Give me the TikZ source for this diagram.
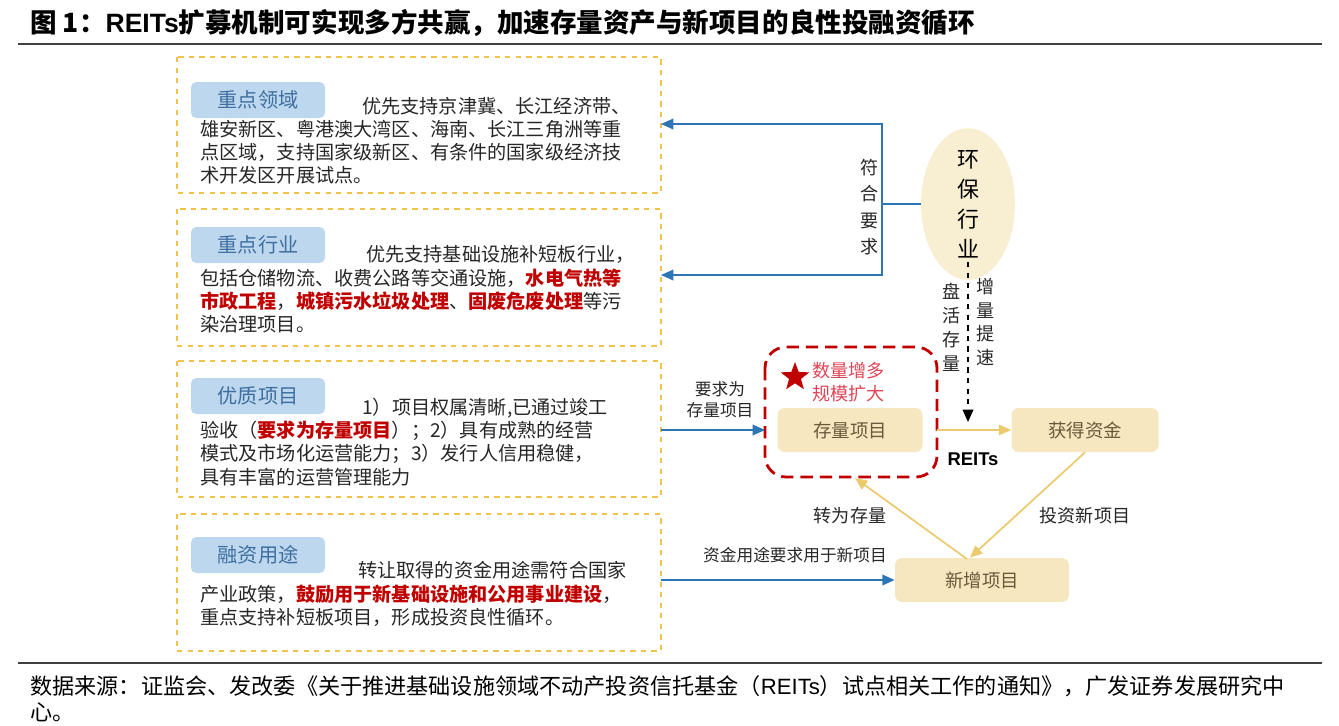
\documentclass[tikz,border=0pt]{standalone}
\usepackage{fontspec}
\setmainfont{Noto Sans CJK SC}
\newfontfamily\lat{Liberation Sans}
\usetikzlibrary{arrows.meta,shapes.geometric}
\definecolor{bl}{HTML}{2E75B6}
\definecolor{gd}{HTML}{F2C34A}
\definecolor{lb}{HTML}{BDD7EE}
\definecolor{lbt}{HTML}{3F6FA0}
\definecolor{bg}{HTML}{F6E7C1}
\definecolor{bgt}{HTML}{6B5A3A}
\definecolor{el}{HTML}{F8EFD2}
\definecolor{rd}{HTML}{C00000}
\definecolor{rt}{HTML}{E04455}
\definecolor{ar}{HTML}{EBCB6E}
\newcommand{\R}[1]{\textcolor{rd}{\bfseries #1}}
\begin{document}
\begin{tikzpicture}[x=0.02cm,y=-0.02cm,
 txt/.style={font=\fontsize{10.9}{12}\selectfont,anchor=west,inner sep=0pt,text=black!85},
 outer/.style={draw=gd,dashed,line width=0.6pt},
 lab/.style={fill=lb,rounded corners=3pt,text=lbt,font=\fontsize{11.5}{13}\selectfont},
 bx/.style={fill=bg,rounded corners=4pt,text=bgt,font=\fontsize{10.5}{12}\selectfont},
 barr/.style={draw=bl,line width=1pt,-{Triangle[length=7pt,width=6pt]}},
 garr/.style={draw=ar,line width=1pt,-{Triangle[length=7pt,width=6pt]}},
 small/.style={font=\fontsize{9.5}{11}\selectfont,text=black!85,inner sep=0pt}]
\useasboundingbox (0,0) rectangle (1339,725);
\node[anchor=west,font=\fontsize{15.1}{16}\selectfont\bfseries,inner sep=0pt] (title) at (30,23) {图 1：{\lat REITs}扩募机制可实现多方共赢，加速存量资产与新项目的良性投融资循环};
\draw[black!75,line width=0.8pt] (18,44) -- (1322,44);
\draw[black!75,line width=0.8pt] (18,663) -- (1322,663);
\node[anchor=west,font=\fontsize{12.6}{13}\selectfont,inner sep=0pt] (src) at (30,686) {数据来源：证监会、发改委《关于推进基础设施领域不动产投资信托基金（{\lat REITs}）试点相关工作的通知》，广发证券发展研究中};
\node[anchor=west,font=\fontsize{12.6}{13}\selectfont,inner sep=0pt] (src2) at (30,712) {心。};

% box1
\draw[outer] (177,57) rectangle (661,193);
\node[lab,minimum width=134*0.02cm,minimum height=36*0.02cm] (l1) at (258,100) {重点领域};
\node[txt] (t1a) at (362,106) {优先支持京津冀、长江经济带、};
\node[txt] (t1b) at (200,129) {雄安新区、粤港澳大湾区、海南、长江三角洲等重};
\node[txt] (t1c) at (200,152) {点区域，支持国家级新区、有条件的国家级经济技};
\node[txt] (t1d) at (200,175) {术开发区开展试点。};
% box2
\draw[outer] (177,209) rectangle (661,346);
\node[lab,minimum width=134*0.02cm,minimum height=36*0.02cm] (l2) at (258,245) {重点行业};
\node[txt] (t2a) at (366,254) {优先支持基础设施补短板行业，};
\node[txt] (t2b) at (200,278) {包括仓储物流、收费公路等交通设施，\R{水电气热等}};
\node[txt] (t2c) at (200,301) {\R{市政工程}，\R{城镇污水垃圾处理}、\R{固废危废处理}等污};
\node[txt] (t2d) at (200,324) {染治理项目。};
% box3
\draw[outer] (177,361) rectangle (661,497);
\node[lab,minimum width=134*0.02cm,minimum height=36*0.02cm] (l3) at (258,396) {优质项目};
\node[txt] (t3a) at (362,408) {1）项目权属清晰,已通过竣工};
\node[txt] (t3b) at (200,431) {验收（\R{要求为存量项目}）；2）具有成熟的经营};
\node[txt] (t3c) at (200,454) {模式及市场化运营能力；3）发行人信用稳健，};
\node[txt] (t3d) at (200,477) {具有丰富的运营管理能力};
% box4
\draw[outer] (177,514) rectangle (661,651);
\node[lab,minimum width=134*0.02cm,minimum height=36*0.02cm] (l4) at (258,555) {融资用途};
\node[txt] (t4a) at (358,570) {转让取得的资金用途需符合国家};
\node[txt] (t4b) at (200,594) {产业政策，\R{鼓励用于新基础设施和公用事业建设}，};
\node[txt] (t4c) at (200,617) {重点支持补短板项目，形成投资良性循环。};

% ellipse
\node[ellipse,fill=el,minimum width=94*0.02cm,minimum height=116*0.02cm,inner sep=0pt,
 font=\fontsize{12.5}{17}\selectfont,align=center] (env) at (968,204) {环\\保\\行\\业};
\coordinate (j) at (882,204);
\draw[bl,line width=1pt] (env.west) -- (j);
\draw[barr] (882,204) |- (661,124);
\draw[barr] (882,204) |- (661,275);
\node[small,align=center,font=\fontsize{10.3}{15}\selectfont] (fh) at (870,207) {符\\合\\要\\求};

% main boxes
\node[bx,minimum width=145*0.02cm,minimum height=44*0.02cm] (cl) at (850,430) {存量项目};
\node[bx,minimum width=147*0.02cm,minimum height=44*0.02cm] (hd) at (1085,430) {获得资金};
\node[bx,minimum width=174*0.02cm,minimum height=44*0.02cm] (xz) at (982,580) {新增项目};
\draw[rd,dashed,line width=1.6pt,dash pattern=on 7pt off 4pt,rounded corners=12pt] (765,347) rectangle (937,477);
\node[star,star points=5,star point ratio=2.4,fill=rd,minimum size=30*0.02cm,inner sep=0pt] (st) at (795,377) {};
\node[small,text=rt,align=left,anchor=west,font=\fontsize{10.3}{13.5}\selectfont] (sl) at (812,382) {数量增多\\规模扩大};

\coordinate (dtop) at (968,262);
\coordinate (dbot) at (968,422);
\draw[black,dashed,line width=1pt,-{Triangle[length=7pt,width=6pt]}] (dtop) -- (dbot);
\node[small,align=center,font=\fontsize{10.3}{13.6}\selectfont] (ph) at (952,327) {盘\\活\\存\\量};
\node[small,align=center,font=\fontsize{10.3}{13.6}\selectfont] (zl) at (986,322) {增\\量\\提\\速};

\coordinate (ra) at (937,430);
\draw[garr] (ra) -- (hd.west);
\node[font=\lat\bfseries\fontsize{10.5}{12}\selectfont,inner sep=0pt] (reits) at (973,459) {REITs};
\draw[garr] (hd.south) -- (xz.north-|970,0);
\coordinate (xt) at (967,559);
\coordinate (ct) at (855,478);
\draw[garr] (xt) -- (ct);
\node[small,font=\fontsize{10.3}{12}\selectfont] (tz) at (850,516) {转为存量};
\node[small,font=\fontsize{10.3}{12}\selectfont] (tx) at (1085,516) {投资新项目};

\coordinate (b3) at (661,430);
\coordinate (rb) at (765,430);
\draw[barr] (b3) -- (rb);
\node[small,align=center,font=\fontsize{9.5}{12}\selectfont] (yq) at (720,400) {要求为\\存量项目};
\coordinate (b4) at (661,580);
\draw[barr] (b4) -- (xz.west);
\node[small] (zj) at (795,555) {资金用途要求用于新项目};
\end{tikzpicture}
\end{document}
